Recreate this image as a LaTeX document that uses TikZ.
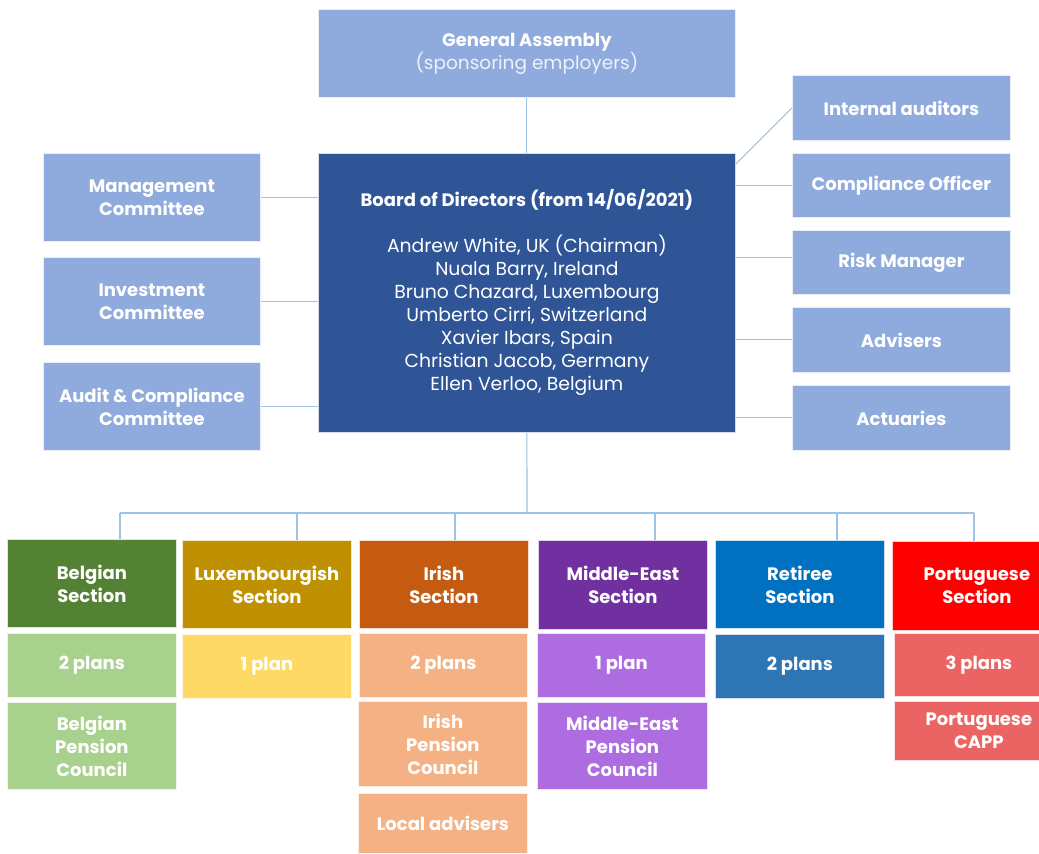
\documentclass[tikz,border=0pt]{standalone}
\usepackage{fontspec}
\setmainfont{Poppins}
\definecolor{lb}{HTML}{8FAADC}
\definecolor{board}{HTML}{2F5597}
\definecolor{conn}{HTML}{9DC3E6}
\definecolor{belD}{HTML}{548235}
\definecolor{belL}{HTML}{A9D18E}
\definecolor{luxD}{HTML}{BF9000}
\definecolor{luxL}{HTML}{FFD966}
\definecolor{iriD}{HTML}{C55A11}
\definecolor{iriL}{HTML}{F4B183}
\definecolor{meD}{HTML}{7030A0}
\definecolor{meL}{HTML}{AD6DE0}
\definecolor{retD}{HTML}{0070C0}
\definecolor{retL}{HTML}{2E75B6}
\definecolor{porD}{HTML}{FF0000}
\definecolor{porL}{HTML}{EB6363}
\tikzset{
  box/.style={fill=#1, draw=white!80!#1, line width=0.8pt, text=white, align=center,
    inner sep=0pt, anchor=north west, font=\fontsize{18}{23}\selectfont\bfseries},
  link/.style={draw=conn, line width=1.1pt}
}
\begin{document}
\begin{tikzpicture}[x=1pt,y=-1pt]
\useasboundingbox[fill=white] (0,0) rectangle (1039,854);
% top
\node[box=lb, minimum width=417pt, minimum height=88pt] (ga) at (318,9)
  {General Assembly\\{\mdseries\fontsize{18.5}{23}\selectfont\color{white!85!lb}(sponsoring employers)}};
\node[box=board, minimum width=417pt, minimum height=279pt, font=\fontsize{18.8}{23}\selectfont] (bod) at (318,153)
  {{\fontsize{18}{23}\selectfont\bfseries Board of Directors (from 14/06/2021)}\\[23pt]
   Andrew White, UK (Chairman)\\Nuala Barry, Ireland\\Bruno Chazard, Luxembourg\\
   Umberto Cirri, Switzerland\\Xavier Ibars, Spain\\Christian Jacob, Germany\\Ellen Verloo, Belgium};
% left
\node[box=lb, minimum width=217pt, minimum height=88pt] (mgmt) at (43,153) {Management\\Committee};
\node[box=lb, minimum width=217pt, minimum height=88pt] (inv) at (43,257) {Investment\\Committee};
\node[box=lb, minimum width=217pt, minimum height=88pt] (aud) at (43,362) {Audit \& Compliance\\Committee};
% right
\node[box=lb, minimum width=218pt, minimum height=65pt] (int) at (792,75) {Internal auditors};
\node[box=lb, minimum width=218pt, minimum height=64pt] (comp) at (792,153) {Compliance Officer};
\node[box=lb, minimum width=218pt, minimum height=64pt] (risk) at (792,230) {Risk Manager};
\node[box=lb, minimum width=218pt, minimum height=65pt] (adv) at (792,307) {Advisers};
\node[box=lb, minimum width=218pt, minimum height=65pt] (act) at (792,385) {Actuaries};
% sections
\node[box=belD, minimum width=169pt, minimum height=88pt] (bel) at (7,539) {Belgian\\Section};
\node[box=luxD, minimum width=169pt, minimum height=88pt] (lux) at (182,540) {Luxembourgish\\Section};
\node[box=iriD, minimum width=169pt, minimum height=88pt] (iri) at (359,540) {Irish\\Section};
\node[box=meD, minimum width=169pt, minimum height=89pt] (me) at (538,540) {Middle-East\\Section};
\node[box=retD, minimum width=169pt, minimum height=88pt] (ret) at (715,540) {Retiree\\Section};
\node[box=porD, minimum width=169pt, minimum height=89pt] (por) at (892,541) {Portuguese\\Section};
% row 2
\node[box=belL, minimum width=169pt, minimum height=64pt] (bel2) at (7,633) {2 plans};
\node[box=luxL, minimum width=169pt, minimum height=64pt] (lux2) at (182,634) {1 plan};
\node[box=iriL, minimum width=168pt, minimum height=64pt] (iri2) at (359,633) {2 plans};
\node[box=meL, minimum width=168pt, minimum height=64pt] (me2) at (537,633) {1 plan};
\node[box=retL, minimum width=169pt, minimum height=64pt] (ret2) at (715,634) {2 plans};
\node[box=porL, minimum width=169pt, minimum height=63pt] (por2) at (894,633) {3 plans};
% row 3
\node[box=belL, minimum width=169pt, minimum height=87pt] (bel3) at (7,702) {Belgian\\Pension\\Council};
\node[box=iriL, minimum width=169pt, minimum height=85pt] (iri3) at (358,701) {Irish\\Pension\\Council};
\node[box=meL, minimum width=170pt, minimum height=87pt] (me3) at (537,702) {Middle-East\\Pension\\Council};
\node[box=porL, minimum width=169pt, minimum height=59pt] (por3) at (894,701) {Portuguese\\CAPP};
\node[box=iriL, minimum width=169pt, minimum height=60pt] (iri4) at (358,793) {Local advisers};
% connectors
\draw[link] (ga.south) -- (bod.north);
\draw[link] (mgmt.east) -- (mgmt.east -| bod.west);
\draw[link] (inv.east) -- (inv.east -| bod.west);
\draw[link] (aud.east) -- (aud.east -| bod.west);
\draw[link] ([yshift=-11pt]bod.north east) -- (int.west);
\draw[link] (comp.west) -- (comp.west -| bod.east);
\draw[link] ([yshift=5pt]risk.west) -- ([yshift=5pt]risk.west -| bod.east);
\draw[link] (adv.west) -- (adv.west -| bod.east);
\draw[link] (act.west) -- (act.west -| bod.east);
\coordinate (hub) at (527,513);
\coordinate (d1) at (120,513);
\coordinate (d2) at (297,513);
\coordinate (d3) at (455,513);
\coordinate (d4) at (655,513);
\coordinate (d5) at (837,513);
\coordinate (d6) at (974,513);
\draw[link] (bod.south) -- (hub);
\draw[link] (d1) -- (d6);
\draw[link] (d1) -- (d1 |- bel.north);
\draw[link] (d2) -- (d2 |- lux.north);
\draw[link] (d3) -- (d3 |- iri.north);
\draw[link] (d4) -- (d4 |- me.north);
\draw[link] (d5) -- (d5 |- ret.north);
\draw[link] (d6) -- (d6 |- por.north);
\end{tikzpicture}
\end{document}
